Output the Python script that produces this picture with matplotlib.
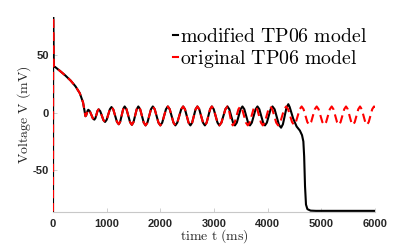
import numpy as np
import matplotlib
matplotlib.use("Agg")
import matplotlib.pyplot as plt

plt.rcParams['mathtext.fontset'] = 'cm'

# ---- data (time in ms, voltage in mV) ----
# shared part: upstroke, plateau decline and early oscillations
t_common = [0, 3, 12, 37, 130, 230, 330, 420, 500, 560, 605,
            618, 645, 658, 686, 742, 770, 790, 830, 850, 880, 940, 970,
            1000, 1060, 1090, 1124, 1191, 1225, 1252, 1308, 1335,
            1369, 1436, 1470, 1500, 1560, 1590, 1624, 1691, 1725,
            1759, 1826, 1860, 1895, 1965, 2000, 2035, 2105, 2140,
            2175, 2245, 2280, 2316, 2389, 2425, 2459, 2526, 2560,
            2593, 2657, 2690, 2725, 2795, 2830, 2863, 2927, 2960,
            2995, 3065, 3100, 3138, 3212, 3250]
v_common = [-86, 83.5, 40.5, 40, 36.5, 32.5, 28, 23, 17, 9, -3,
            -2.2, 1.8, 2.6, 1.4, -4.8, -6, -4.7, 1.7, 3, 1.4, -6.4, -8,
            -6.1, 3.1, 5, 2.8, -7.8, -10, -7.8, 3.3, 5.5,
            3.2, -8.2, -10.5, -8.1, 3.1, 5.5, 3.1, -8.6, -11,
            -8.6, 3.1, 5.5, 3.1, -8.6, -11, -8.6, 3.1, 5.5,
            3.1, -8.6, -11, -8.6, 3.1, 5.5, 3.1, -8.6, -11,
            -8.6, 3.1, 5.5, 3.1, -8.6, -11, -8.6, 3.1, 5.5,
            3.1, -8.6, -11, -8.6, 3.1, 5.5]

# modified TP06 model: continues, then repolarises to rest
t_mod_tail = [3285, 3355, 3390, 3425, 3495, 3530, 3565, 3635, 3670,
              3705, 3775, 3810, 3845, 3915, 3950, 3985, 4055, 4090,
              4130, 4210, 4250, 4284, 4351, 4385, 4410, 4475, 4540,
              4600, 4640, 4665, 4680, 4696, 4714, 4740, 4800, 4900, 6000]
v_mod_tail = [3.1, -8.6, -11, -8.6, 3.1, 5.5, 3.1, -8.6, -11,
              -8.6, 3.1, 5.5, 3.1, -8.6, -11, -8.6, 3.1, 5.5,
              3, -10.5, -13, -10, 4.5, 7.5, 5, -5, -12,
              -15.5, -19.5, -25, -38, -64, -80, -84, -85.3, -85.5, -85.5]

# original TP06 model: keeps oscillating
t_orig_tail = [3275, 3325, 3350, 3385, 3455, 3490, 3525, 3595, 3630,
               3665, 3735, 3770, 3805, 3875, 3910, 3945, 4015, 4050,
               4086, 4159, 4195, 4233, 4307, 4345, 4381, 4454, 4490,
               4526, 4597, 4633, 4669, 4739, 4775, 4810, 4878, 4913,
               4949, 5019, 5055, 5090, 5158, 5193, 5226, 5292, 5325,
               5359, 5426, 5460, 5493, 5557, 5590, 5623, 5688, 5721,
               5753, 5818, 5850, 5883, 5948, 5981, 6000]
v_orig_tail = [3.1, -8.6, -11, -8.6, 3.1, 5.5, 3.1, -8.6, -11,
               -8.6, 3.1, 5.5, 3.1, -8.6, -11, -8.6, 3.1, 5.5,
               3.1, -8.6, -11, -8.6, 3.1, 5.5, 3.1, -8.1, -10.5,
               -8.1, 3.1, 5.5, 3.1, -8.1, -10.5, -8.1, 3.1, 5.5,
               3.1, -8.1, -10.5, -8.1, 3.1, 5.5, 3.1, -8.1, -10.5,
               -8.1, 3.1, 5.5, 3.1, -8.1, -10.5, -8.1, 3.1, 5.5,
               3.1, -8.1, -10.5, -8.1, 3.1, 5.5, 5]

x_ticks = [0, 1000, 2000, 3000, 4000, 5000, 6000]
y_ticks = [-50, 0, 50]
label_mod = r'$\mathrm{modified\ TP06\ model}$'
label_orig = r'$\mathrm{original\ TP06\ model}$'

t_mod = t_common + t_mod_tail
v_mod = v_common + v_mod_tail
t_orig = t_common + t_orig_tail
v_orig = v_common + v_orig_tail

fig = plt.figure(figsize=(4.15, 2.47), dpi=100)
ax = fig.add_axes([53/415, 1-212/247, (375-53)/415, (212-17)/247])

ax.plot(t_mod, v_mod, color='black', lw=1.5, solid_joinstyle='round',
        label=label_mod, zorder=3)
ax.plot(t_orig, v_orig, color='#ff0000', lw=1.5, dashes=(4, 2.3),
        label=label_orig, zorder=4)

ax.set_xlim(0, 6000)
ax.set_ylim(-86.5, 83.5)
ax.set_xticks(x_ticks)
ax.set_yticks(y_ticks)
ax.set_xticklabels([str(v) for v in x_ticks])
ax.set_yticklabels([str(v) for v in y_ticks])

for s in ['top', 'right']:
    ax.spines[s].set_visible(False)
for s in ['bottom', 'left']:
    ax.spines[s].set_color('#c8c8c8')
    ax.spines[s].set_linewidth(0.8)
ax.tick_params(direction='in', length=3, width=0.6, color='#c8c8c8',
               labelcolor='#262626')
ax.tick_params(axis='x', pad=5)
ax.tick_params(axis='y', pad=3)
for lab in ax.get_xticklabels() + ax.get_yticklabels():
    lab.set_fontfamily('Liberation Sans')
    lab.set_fontweight('bold')
    lab.set_fontsize(8)

ax.set_xlabel(r'$\mathrm{time\ t\ (ms)}$', fontsize=10, color='#262626',
              labelpad=-1)
ax.set_ylabel(r'$\mathrm{Voltage\ V\ (mV)}$', fontsize=10, color='#262626',
              labelpad=0)

leg = ax.legend(loc='upper left', bbox_to_anchor=(173/415, 1-27/247),
                bbox_transform=fig.transFigure, frameon=False,
                fontsize=14.3, handlelength=0.25, handletextpad=0.12,
                borderpad=0, borderaxespad=0, labelspacing=0.1)
for h in leg.get_lines():
    h.set_linestyle('-')
    h.set_linewidth(1.5)

fig.savefig('out.png', dpi=100)
